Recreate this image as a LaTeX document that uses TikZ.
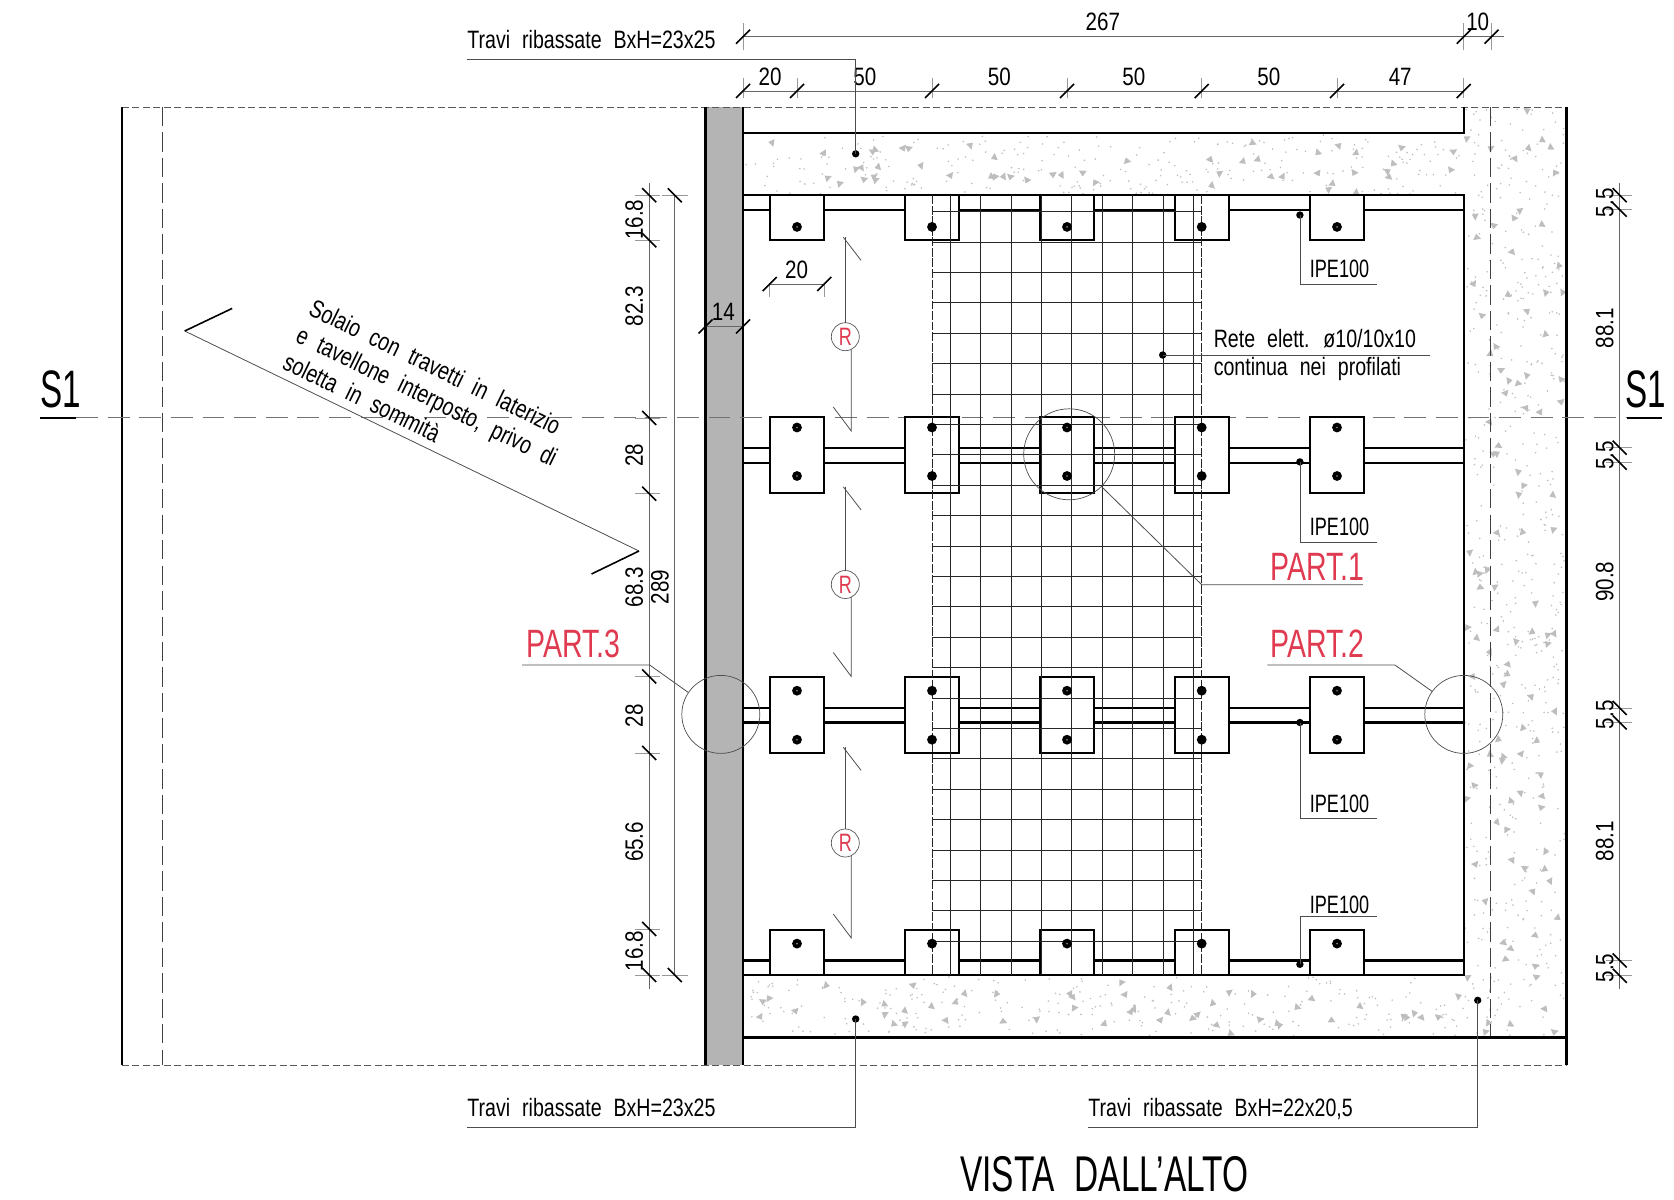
\documentclass[tikz,border=0pt]{standalone}
\usepackage{fontspec}
\setmainfont{Liberation Sans}[FakeStretch=0.72,WordSpace=2.2]
\newfontfamily\txtfont{Liberation Sans}[FakeStretch=0.78,WordSpace=2.2]
\newfontfamily\numfont{Liberation Sans}[FakeStretch=0.82]
\newfontfamily\secfont{Liberation Sans}[FakeStretch=0.63]
\newfontfamily\titlefont{Liberation Sans}[FakeStretch=0.665,WordSpace=2.2]
\definecolor{wallgray}{HTML}{B4B4B4}
\definecolor{speck}{HTML}{BEBEBE}
\definecolor{partred}{HTML}{E03A50}
\tikzset{
  txt/.style={inner sep=0pt,font=\txtfont\fontsize{14.3}{17}\selectfont},
  num/.style={inner sep=0pt,anchor=base,font=\numfont\fontsize{14.3}{17}\selectfont},
  vnum/.style={inner sep=0pt,rotate=90,anchor=center,font=\numfont\fontsize{14.3}{17}\selectfont},
  parttxt/.style={inner sep=0pt,anchor=base west,text=partred,font=\fontsize{22.5}{26}\selectfont},
  sectxt/.style={inner sep=0pt,anchor=base,font=\secfont\fontsize{30}{34}\selectfont},
  heavy/.style={line width=1.35pt,black},
  thin line/.style={line width=0.45pt,black!65},
  lead/.style={line width=0.45pt,black!70},
  dimline/.style={line width=0.45pt,black!60},
  ext/.style={line width=0.4pt,black!40},
  tickmark/.style={line width=0.9pt,black},
  dot/.style={circle,fill=black,inner sep=0pt,minimum size=4.2pt},
  bolt/.style={circle,fill=black,inner sep=0pt,minimum size=5.6pt},
  detail/.style={circle,draw=black!70,line width=0.4pt,inner sep=0pt,outer sep=0pt},
  rmark/.style={circle,draw=black!65,fill=white,line width=0.4pt,inner sep=0pt,outer sep=0pt,
    minimum size=0.56cm,text=partred,font=\fontsize{14.3}{16}\selectfont},
  plate/.style={draw=black,line width=1.25pt,fill=white},
  meshline/.style={line width=0.55pt,black!85}
}
\begin{document}
\begin{tikzpicture}[x=0.02cm,y=-0.02cm]
  \useasboundingbox (0,0) rectangle (1674,1200);
  \pgfmathsetseed{4217}

  % speckled concrete
  \def\concrete#1#2#3#4#5#6{%
    \foreach \i in {1,...,#5} {
      \pgfmathsetmacro\a{#1+rnd*#3}
      \pgfmathsetmacro\b{#2+rnd*#4}
      \fill[speck] (\a,\b) circle [radius=0.9];
    }
    \foreach \i in {1,...,#6} {
      \pgfmathsetmacro\a{#1+4+rnd*(#3-8)}
      \pgfmathsetmacro\b{#2+4+rnd*(#4-8)}
      \pgfmathsetmacro\r{rnd*360}
      \fill[speck] (\a,\b) -- ++(\r:8) -- ++(\r+125:7) -- cycle;
    }
  }
  \concrete{744}{135}{720}{59}{250}{50}
  \concrete{744}{977}{720}{59}{250}{50}
  \concrete{1465}{109}{100}{927}{520}{105}

  % outlines
  \fill[wallgray] (705.6,107) rectangle (743,1065);
  \draw[thin line,dash pattern=on 4pt off 2pt] (121.7,107) -- (1566.3,107);
  \draw[thin line,dash pattern=on 4pt off 2pt] (121.7,1065) -- (1566.3,1065);
  \draw[line width=0.5pt,black!75,dash pattern=on 11pt off 3.5pt] (162.3,107) -- (162.3,1065);
  \draw[line width=0.5pt,black!75,dash pattern=on 11pt off 3.5pt] (1490.4,107) -- (1490.4,1037.4);
  \draw[heavy] (121.7,107) -- (121.7,1065);
  \draw[heavy] (705.6,107) -- (705.6,1065);
  \draw[heavy] (743,107) -- (743,1065);
  \draw[heavy] (1566.3,107) -- (1566.3,1065);
  \draw[heavy] (743,132.8) -- (1463.7,132.8) -- (1463.7,107);
  \draw[heavy] (743,195.2) -- (1463.7,195.2) -- (1463.7,975) -- (743,975);
  \draw[heavy] (743,1037.4) -- (1566.3,1037.4);

  % section line
  \draw[line width=0.5pt,black!55,dash pattern=on 12.5pt off 5.5pt] (76,417.9) -- (1627,417.9);
  \draw[line width=1.6pt] (40,418) -- (76,418);
  \draw[line width=1.6pt] (1627,418) -- (1662,418);
  \node[sectxt] (sleft) at (61,407.5) {S1};
  \node[sectxt] (sright) at (1646,407.5) {S1};

  % beams
  \foreach \y in {209.7,447.7,462.7,707.9,722.5,960.5} {
    \draw[line width=1.3pt] (743,\y) -- (1463.7,\y);
  }

  % plates and bolts
  \foreach \x in {797,932,1067,1201.7,1337} {
    \draw[plate] (\x-27,195.2) rectangle (\x+27,240.3);
    \draw[plate] (\x-27,416.7) rectangle (\x+27,493.3);
    \draw[plate] (\x-27,676.9) rectangle (\x+27,753);
    \draw[plate] (\x-27,929.9) rectangle (\x+27,975);
  }

  % mesh
  \foreach \k in {0,...,24} {
    \draw[meshline] (932,211.6+30.4*\k) -- (1201.7,211.6+30.4*\k);
  }
  \foreach \k in {0,...,8} {
    \draw[meshline] (950.2+30.4*\k,195.2) -- (950.2+30.4*\k,975);
  }
  \draw[meshline,dash pattern=on 5pt off 1pt] (932,195.2) -- (932,975);
  \draw[meshline,dash pattern=on 5pt off 1pt] (1201.7,195.2) -- (1201.7,975);

  \foreach \x in {797,932,1067,1201.7,1337} {
    \foreach \y in {226.9,427.5,476,690.7,739.7,943.6} {
      \node[bolt] at (\x,\y) {};
    }
  }
  \foreach \x in {797,1067,1337} {
    \foreach \y in {226.9,427.5,476,690.7,739.7,943.6} {
      \fill[black!45] (\x,\y) circle [radius=0.9];
    }
  }

  % reinforcement marks
  \foreach \c/\t/\b/\n in {336.7/237.3/431/ra,584.5/486.8/676.5/rb,843/747.3/938/rc} {
    \node[rmark] (\n) at (845.3,\c) {R};
    \draw[lead] (\n.north) -- (845.3,\t);
    \draw[lead] (843.3,\t) -- (861,\t+23);
    \draw[lead] (\n.-65) -- (851.3,\b) -- (833.3,\b-24);
  }

  % dimensions on top
  \draw[dimline] (743,36.7) -- (1504.4,36.7);
  \foreach \x in {743,1463.7,1491.6} {
    \draw[ext] (\x,23) -- (\x,50);
    \draw[tickmark] (\x-7,43.7) -- (\x+7,29.7);
  }
  \node[num] (dimtot) at (1102.9,30.6) {267};
  \node[num] (dimten) at (1477.7,30.6) {10};
  \draw[dimline] (743,91) -- (1463.7,91);
  \foreach \x in {743,797,932,1067,1201.7,1337,1463.7} {
    \draw[ext] (\x,78.4) -- (\x,97.6);
    \draw[tickmark] (\x-7,98) -- (\x+7,84);
  }
  \foreach \x/\t in {770/20,864.8/50,999.3/50,1133.9/50,1268.9/50,1400.2/47} {
    \node[num] at (\x,85.4) {\t};
  }
  \draw[dimline] (705.6,326.4) -- (743,326.4);
  \foreach \x in {705.6,743} {
    \draw[tickmark] (\x-7,333.4) -- (\x+7,319.4);
  }
  \node[num] (dimwall) at (723.4,320) {14};
  \draw[dimline] (769.7,284) -- (824.3,284);
  \foreach \x in {769.7,824.3} {
    \draw[ext] (\x,284) -- (\x,297);
    \draw[tickmark] (\x-7,291) -- (\x+7,277);
  }
  \node[num] (dimplate) at (796.6,278) {20};

  % dimensions on the left
  \draw[dimline] (649.2,183) -- (649.2,988.8);
  \foreach \y in {195.2,240.3,417.9,493.6,676.5,753,929,975} {
    \draw[ext] (635,\y) -- (660,\y);
    \draw[tickmark] (642.2,\y-7) -- (656.2,\y+7);
  }
  \foreach \y/\t in {219.6/16.8,306/82.3,455.4/28,587/68.3,715.6/28,841.9/65.6,951/16.8} {
    \node[vnum] at (634.3,\y) {\t};
  }
  \draw[dimline] (674.8,195.2) -- (674.8,975);
  \foreach \y in {195.2,975} {
    \draw[ext] (662,\y) -- (688,\y);
    \draw[tickmark] (667.8,\y-7) -- (681.8,\y+7);
  }
  \node[vnum] (dimheight) at (660,587) {289};

  % dimensions on the right
  \draw[dimline] (1619.7,183) -- (1619.7,988.8);
  \foreach \y in {195.2,209.7,447.7,462.7,707.9,722.5,960.5,975.8} {
    \draw[ext] (1606,\y) -- (1632,\y);
    \draw[tickmark] (1612.7,\y-7) -- (1626.7,\y+7);
  }
  \foreach \y/\t in {202.8/5.5,328.3/88.1,455.4/5.5,581.7/90.8,714.8/5.5,841/88.1,968/5.5} {
    \node[vnum] at (1604.8,\y) {\t};
  }

  % beam labels
  \node[txt,anchor=base west] (travitop) at (467,48.6) {Travi ribassate BxH=23x25};
  \node[dot] (dottop) at (855.7,153.8) {};
  \coordinate (bendtop) at (855.7,59.3);
  \coordinate (endtop) at (467,59.3);
  \draw[lead] (dottop.center) -- (bendtop) -- (endtop);

  \node[txt,anchor=base west] (travileft) at (467,1116.6) {Travi ribassate BxH=23x25};
  \node[dot] (dotleft) at (855.7,1019) {};
  \coordinate (bendleft) at (855.7,1127);
  \coordinate (endleft) at (467,1127);
  \draw[lead] (dotleft.center) -- (bendleft) -- (endleft);

  \node[txt,anchor=base west] (traviright) at (1088,1116.6) {Travi ribassate BxH=22x20,5};
  \node[dot] (dotright) at (1477.7,1000.3) {};
  \coordinate (bendright) at (1477.7,1127);
  \coordinate (endright) at (1088,1127);
  \draw[lead] (dotright.center) -- (bendright) -- (endright);

  % profile labels
  \foreach \y/\e/\b/\n in {215/284/277.5/ipa,461.9/542.3/535.7/ipb,722.5/818.5/812/ipc,964.3/916/913/ipd} {
    \node[dot] (\n) at (1299.9,\y) {};
    \draw[lead] (\n.center) -- (1299.9,\e) -- (1377.3,\e);
    \node[inner sep=0pt,anchor=base west,font=\fontsize{14.3}{17}\selectfont] at (1309.5,\b) {IPE100};
  }

  % mesh label
  \node[dot] (dotmesh) at (1162.7,355) {};
  \coordinate (endmesh) at (1429.6,355);
  \draw[lead] (dotmesh.center) -- (endmesh);
  \node[txt,anchor=base west] (meshone) at (1213.4,347.5) {Rete elett. ø10/10x10};
  \node[txt,anchor=base west] (meshtwo) at (1213.4,375) {continua nei profilati};

  % details
  \node[detail,minimum size=1.82cm] (cone) at (1069.2,454.3) {};
  \node[detail,minimum size=1.56cm] (ctwo) at (1463.8,714.4) {};
  \node[detail,minimum size=1.56cm] (cthree) at (720.8,714.4) {};
  \draw[lead] (cone.-45) -- (1201.7,584.7) -- (1362.9,584.7);
  \draw[lead] (ctwo.144) -- (1394.9,665) -- (1267.3,665);
  \draw[lead] (cthree.146) -- (649.7,665) -- (522,665);
  \node[parttxt] (pone) at (1270.5,580) {PART.1};
  \node[parttxt] (ptwo) at (1270.5,657.4) {PART.2};
  \node[parttxt] (pthree) at (526,657.4) {PART.3};

  % floor note
  \coordinate (notea) at (184.7,331);
  \coordinate (noteb) at (639,551);
  \draw[lead] (notea) -- (noteb);
  \draw[tickmark] (232.2,308.4) -- (notea);
  \draw[tickmark] (noteb) -- (591.5,574);
  \node[txt,rotate=-26,anchor=west,align=left] (note) at (298,333)
    {Solaio con travetti in laterizio\\e tavellone interposto, privo di\\soletta in sommità};

  \node[inner sep=0pt,anchor=base west,font=\titlefont\fontsize{28.6}{32}\selectfont] (title) at (960,1191) {VISTA DALL’ALTO};
\end{tikzpicture}
\end{document}
